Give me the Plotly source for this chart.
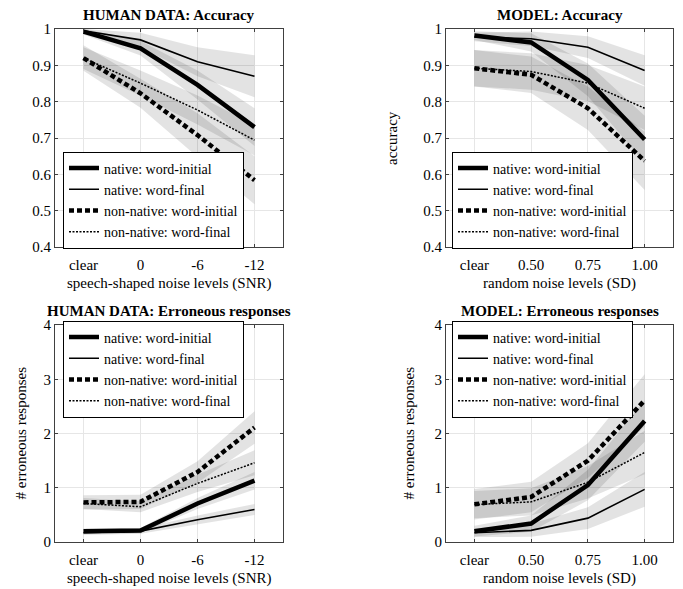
import plotly.graph_objects as go

# ---------------- data ----------------
human_levels = ["clear", "0", "-6", "-12"]
model_levels = ["clear", "0.50", "0.75", "1.00"]
series_names = ["native: word-initial", "native: word-final",
                "non-native: word-initial", "non-native: word-final"]

# HUMAN DATA: Accuracy (mean, half-width of band)
human_acc_nwi = [0.993, 0.947, 0.846, 0.730]
human_acc_nwf = [0.995, 0.970, 0.910, 0.870]
human_acc_nnwi = [0.920, 0.823, 0.708, 0.584]
human_acc_nnwf = [0.920, 0.851, 0.777, 0.694]
human_acc_nwi_err = [0.008, 0.020, 0.040, 0.052]
human_acc_nwf_err = [0.005, 0.020, 0.040, 0.058]
human_acc_nnwi_err = [0.035, 0.040, 0.060, 0.066]
human_acc_nnwf_err = [0.030, 0.035, 0.040, 0.042]

# MODEL: Accuracy
model_acc_nwi = [0.982, 0.963, 0.860, 0.696]
model_acc_nwf = [0.978, 0.973, 0.950, 0.886]
model_acc_nnwi = [0.892, 0.874, 0.782, 0.637]
model_acc_nnwf = [0.892, 0.883, 0.851, 0.782]
model_acc_nwi_err = [0.012, 0.025, 0.045, 0.065]
model_acc_nwf_err = [0.012, 0.020, 0.030, 0.042]
model_acc_nnwi_err = [0.050, 0.050, 0.060, 0.080]
model_acc_nnwf_err = [0.050, 0.050, 0.050, 0.060]

# HUMAN DATA: Erroneous responses
human_err_nwi = [0.20, 0.21, 0.71, 1.13]
human_err_nwf = [0.17, 0.20, 0.41, 0.60]
human_err_nnwi = [0.73, 0.74, 1.29, 2.11]
human_err_nnwf = [0.71, 0.65, 1.08, 1.46]
human_err_nwi_err = [0.05, 0.05, 0.10, 0.16]
human_err_nwf_err = [0.04, 0.05, 0.08, 0.10]
human_err_nnwi_err = [0.13, 0.13, 0.20, 0.30]
human_err_nnwf_err = [0.10, 0.10, 0.16, 0.23]

# MODEL: Erroneous responses
model_err_nwi = [0.20, 0.34, 1.05, 2.23]
model_err_nwf = [0.17, 0.215, 0.44, 0.97]
model_err_nnwi = [0.695, 0.83, 1.50, 2.61]
model_err_nnwf = [0.69, 0.74, 1.10, 1.65]
model_err_nwi_err = [0.10, 0.15, 0.28, 0.38]
model_err_nwf_err = [0.08, 0.12, 0.20, 0.32]
model_err_nnwi_err = [0.28, 0.28, 0.32, 0.48]
model_err_nnwf_err = [0.25, 0.25, 0.30, 0.40]

panels = [
    dict(levels=human_levels,
         means=[human_acc_nwi, human_acc_nwf, human_acc_nnwi, human_acc_nnwf],
         errs=[human_acc_nwi_err, human_acc_nwf_err, human_acc_nnwi_err, human_acc_nnwf_err],
         title="HUMAN DATA: Accuracy", xtitle="speech-shaped noise levels (SNR)", ytitle=None),
    dict(levels=model_levels,
         means=[model_acc_nwi, model_acc_nwf, model_acc_nnwi, model_acc_nnwf],
         errs=[model_acc_nwi_err, model_acc_nwf_err, model_acc_nnwi_err, model_acc_nnwf_err],
         title="MODEL: Accuracy", xtitle="random noise levels (SD)", ytitle="accuracy"),
    dict(levels=human_levels,
         means=[human_err_nwi, human_err_nwf, human_err_nnwi, human_err_nnwf],
         errs=[human_err_nwi_err, human_err_nwf_err, human_err_nnwi_err, human_err_nnwf_err],
         title="HUMAN DATA: Erroneous responses", xtitle="speech-shaped noise levels (SNR)",
         ytitle="# erroneous responses"),
    dict(levels=model_levels,
         means=[model_err_nwi, model_err_nwf, model_err_nnwi, model_err_nnwf],
         errs=[model_err_nwi_err, model_err_nwf_err, model_err_nnwi_err, model_err_nnwf_err],
         title="MODEL: Erroneous responses", xtitle="random noise levels (SD)",
         ytitle="# erroneous responses"),
]

line_styles = [dict(width=4.5, dash="solid"),
               dict(width=1.6, dash="solid"),
               dict(width=4.5, dash="5px,3px"),
               dict(width=1.5, dash="2px,1.5px")]

FONT = "Liberation Serif"
OFF = 8  # page body margin
W, H = 683 - OFF, 589 - OFF


def px_x(v):
    return (v - OFF) / W


def px_y(v):
    return 1 - (v - OFF) / H


xdom = [[px_x(55), px_x(283)], [px_x(446), px_x(673)], [px_x(55), px_x(283)], [px_x(446), px_x(673)]]
ydom = [[px_y(247), px_y(29)], [px_y(247), px_y(29)],
        [px_y(542), px_y(325)], [px_y(542), px_y(325)]]
yranges = [[0.4, 1], [0.4, 1], [0, 4], [0, 4]]
ytickvals = [[0.4, 0.5, 0.6, 0.7, 0.8, 0.9, 1.0], [0.4, 0.5, 0.6, 0.7, 0.8, 0.9, 1.0],
             [0, 1, 2, 3, 4], [0, 1, 2, 3, 4]]
yticktext = [["0.4", "0.5", "0.6", "0.7", "0.8", "0.9", "1"], ["0.4", "0.5", "0.6", "0.7", "0.8", "0.9", "1"],
             ["0", "1", "2", "3", "4"], ["0", "1", "2", "3", "4"]]

fig = go.Figure()
layout = dict(width=W, height=H, margin=dict(l=0, r=0, t=0, b=0, autoexpand=False),
              paper_bgcolor="white", plot_bgcolor="white",
              font=dict(family=FONT, size=15, color="black"))
annotations = []

for p, panel in enumerate(panels):
    k = p + 1
    xa = "x" if k == 1 else f"x{k}"
    ya = "y" if k == 1 else f"y{k}"
    lg = "legend" if k == 1 else f"legend{k}"
    lv = panel["levels"]
    # bands
    for m, e in zip(panel["means"], panel["errs"]):
        upper = [a + b for a, b in zip(m, e)]
        lower = [a - b for a, b in zip(m, e)]
        fig.add_trace(go.Scatter(x=lv + lv[::-1], y=upper + lower[::-1], fill="toself",
                                 fillcolor="rgba(0,0,0,0.11)", line=dict(width=0),
                                 mode="lines", hoverinfo="skip", showlegend=False,
                                 xaxis=xa, yaxis=ya))
    # lines
    for name, m, st in zip(series_names, panel["means"], line_styles):
        fig.add_trace(go.Scatter(x=lv, y=m, mode="lines", name=name,
                                 line=dict(color="black", **st),
                                 xaxis=xa, yaxis=ya, legend=lg))

    axkey = "xaxis" if k == 1 else f"xaxis{k}"
    aykey = "yaxis" if k == 1 else f"yaxis{k}"
    layout[axkey] = dict(domain=xdom[p], anchor=ya, type="category", categoryorder="array",
                         categoryarray=lv, range=[-0.5, 3.5], automargin=False,
                         showgrid=True, gridcolor="#e6e6e6", gridwidth=1,
                         showline=True, linecolor="#404040", linewidth=1, mirror="allticks",
                         ticks="inside", ticklen=3, tickcolor="#404040",
                         tickfont=dict(family=FONT, size=15), ticklabelstandoff=4,
                         zeroline=False)
    layout[aykey] = dict(domain=ydom[p], anchor=xa, range=yranges[p], automargin=False,
                         tickvals=ytickvals[p], ticktext=yticktext[p],
                         showgrid=True, gridcolor="#e6e6e6", gridwidth=1,
                         showline=True, linecolor="#404040", linewidth=1, mirror="allticks",
                         ticks="inside", ticklen=3, tickcolor="#404040",
                         tickfont=dict(family=FONT, size=15), zeroline=False)

    legy = px_y(200) if k <= 2 else px_y(369)
    legx = px_x(63) if k in (1, 3) else px_x(452)
    layout[lg] = dict(x=legx, y=legy, xanchor="left", yanchor="middle",
                      bgcolor="white", bordercolor="black", borderwidth=1,
                      font=dict(family=FONT, size=14), tracegroupgap=0,
                      itemwidth=30)

    # panel title
    top_px = 29 if k <= 2 else 325
    bot_px = 247 if k <= 2 else 542
    xc = (xdom[p][0] + xdom[p][1]) / 2
    annotations.append(dict(text="<b>" + panel["title"] + "</b>", xref="paper", yref="paper",
                            x=xc, y=px_y(top_px - 14), xanchor="center", yanchor="middle",
                            showarrow=False, font=dict(family=FONT, size=15)))
    annotations.append(dict(text=panel["xtitle"], xref="paper", yref="paper",
                            x=xc, y=px_y(bot_px + 36), xanchor="center", yanchor="middle",
                            showarrow=False, font=dict(family=FONT, size=15)))
    if panel["ytitle"]:
        yc = (ydom[p][0] + ydom[p][1]) / 2
        xt = {2: 392, 3: 20, 4: 408}[k]
        annotations.append(dict(text=panel["ytitle"], xref="paper", yref="paper",
                                x=px_x(xt), y=yc, xanchor="center", yanchor="middle",
                                textangle=-90, showarrow=False, font=dict(family=FONT, size=15)))

layout["annotations"] = annotations
fig.update_layout(**layout)
fig.write_html("out.html")
